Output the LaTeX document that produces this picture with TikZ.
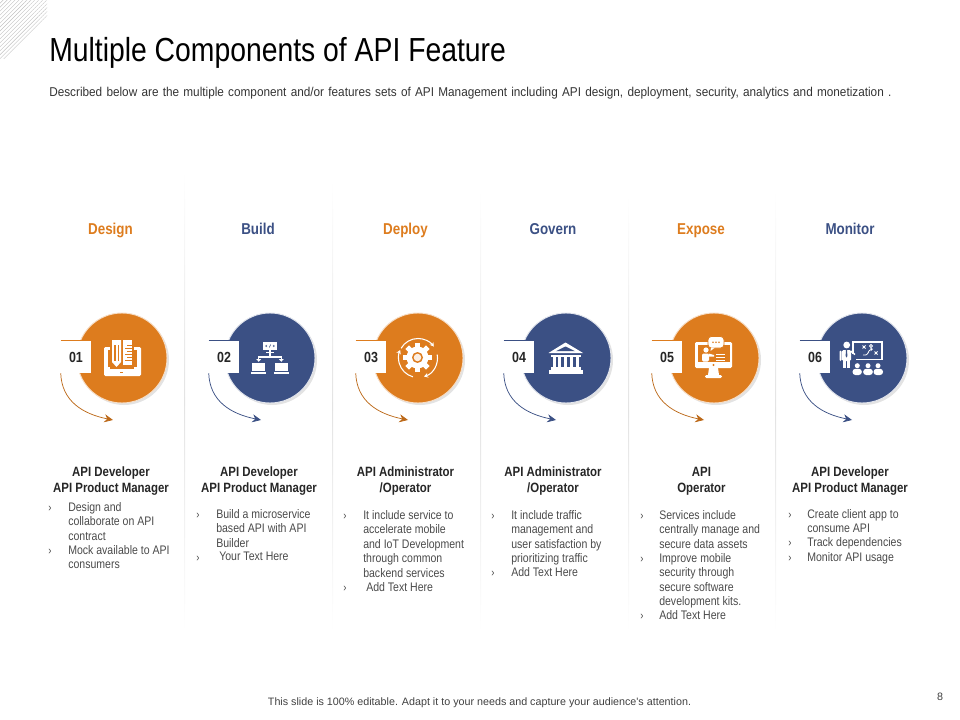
\documentclass[tikz,border=0pt]{standalone}
\usepackage{fontspec}
\setmainfont{Liberation Sans}[FakeStretch=0.85]
\newfontfamily\subfont{Liberation Sans}[FakeStretch=0.92,WordSpace=1.3]
\newfontfamily\footfont{Liberation Sans}
\usetikzlibrary{arrows.meta,patterns.meta,shadows}
\definecolor{brandO}{HTML}{DD7C1E}
\definecolor{brandB}{HTML}{3B5084}
\definecolor{bodyGray}{HTML}{4A4A4A}
\tikzset{
  head_t/.style = {inner sep=0pt, anchor=base, font=\bfseries\fontsize{11.8}{13}\selectfont},
  head_o/.style = {head_t, brandO},
  head_b/.style = {head_t, brandB},
  role/.style = {align=center, inner sep=0pt, text=black!85,
    font=\bfseries\fontsize{10.1}{12}\selectfont},
  item/.style = {align=left, inner sep=0pt, anchor=north west, text=bodyGray,
    font=\fontsize{9.3}{10.85}\selectfont},
  chev/.style = {inner sep=0pt, text=bodyGray, font=\fontsize{8.5}{10}\selectfont},
  circ_t/.style = {circle, minimum size=67.5pt, inner sep=0pt,
    drop shadow={shadow xshift=1.5pt, shadow yshift=-1.5pt, opacity=.22}},
  circ_o/.style = {circ_t, fill=brandO, draw=brandO!25, line width=.7pt},
  circ_b/.style = {circ_t, fill=brandB, draw=brandB!15, line width=.7pt},
  tag/.style = {fill=white, minimum width=22.5pt, minimum height=24pt, inner sep=0pt,
    text=black!85, font=\bfseries\fontsize{11}{12}\selectfont},
  conn_o/.style = {->, brandO!85!black, line width=.55pt},
  conn_b/.style = {->, brandB, line width=.55pt},
  line_o/.style = {brandO, line width=.5pt},% top edge of a number tag
  line_b/.style = {brandB, line width=.5pt},
  sep/.style = {top color=white, bottom color=white, middle color=black!11},
  ic_design/.pic = {
    \fill[white, rounded corners=1pt] (-18,-11) rectangle (19,18);
    \fill[brandO] (-14,-8) rectangle (15,9);
    \fill[brandO] (-12,-11) rectangle (12,11);
    \fill[white] (-10,-18) -- (-1,-18) -- (-1,4) -- (-5.5,9) -- (-10,4) -- cycle;
    \fill[brandO] (-8,-13) -- (-6.5,-13) -- (-6.5,3) -- (-8,3) -- cycle;
    \fill[brandO] (-4.5,-13) -- (-3,-13) -- (-3,3) -- (-4.5,3) -- cycle;
    \fill[white] (0.5,-18) rectangle (10,7);
    \fill[brandO] (5,-13) rectangle (10,-12);
    \fill[brandO] (3,-10) rectangle (10,-9);
    \fill[brandO] (5,-7) rectangle (10,-6);
    \fill[brandO] (3,-4) rectangle (10,-3);
    \fill[brandO] (5,-1) rectangle (10,0);
    \fill[brandO] (3,2) rectangle (10,3);
    \fill[brandO] (-2,13.5) rectangle (1,14.5);
  },
  ic_net/.pic = {
    \fill[white] (-7,-16) rectangle (7,-8);
    \draw[brandB, line width=.4pt] (-3,-13) -- (-4.5,-12) -- (-3,-11) (3,-13) -- (4.5,-12) -- (3,-11) (.7,-13.5) -- (-.7,-10.5);
    \fill[white] (-1,-8) rectangle (1,-1);
    \fill[white] (-4,-6.5) rectangle (4,-5);
    \fill[white] (-12,-1.7) rectangle (12,-.3);
    \fill[white] (-12,-1) rectangle (-10.6,1);
    \fill[white] (10.6,-1) rectangle (12,1);
    \fill[white] (-13.8,1) -- (-8.8,1) -- (-11.3,3.8) -- cycle;
    \fill[white] (8.8,1) -- (13.8,1) -- (11.3,3.8) -- cycle;
    \fill[white] (-18,5) rectangle (-5,13);
    \fill[white] (-19,14) rectangle (-4,16);
    \fill[white] (5,5) rectangle (18,13);
    \fill[white] (4,14) rectangle (19,16);
  },
  ic_gear/.pic = {
    \fill[white] (-.5,-.5) circle (11);
    \fill[white, rotate around={0:(-.5,-.5)}] (-3,-15) rectangle (2,14);
    \fill[white, rotate around={45:(-.5,-.5)}] (-3,-15) rectangle (2,14);
    \fill[white, rotate around={90:(-.5,-.5)}] (-3,-15) rectangle (2,14);
    \fill[white, rotate around={135:(-.5,-.5)}] (-3,-15) rectangle (2,14);
    \fill[brandO] (-.5,-.5) circle (5.5);
    \fill[white!88!brandO] (-.5,-.5) circle (3.8);
    \draw[white, line width=.8pt, -{Stealth[length=3pt,width=3.5pt]}] (-150:19.5) arc (-150:-36:19.5);
    \draw[white, line width=.8pt, -{Stealth[length=3pt,width=3.5pt]}] (-10:19.5) arc (-10:72:19.5);
    \draw[white, line width=.8pt, -{Stealth[length=3pt,width=3.5pt]}] (105:19.5) arc (105:204:19.5);
  },
  ic_bank/.pic = {
    \fill[white] (-.5,-15.5) -- (17,-5) -- (-17.5,-5) -- cycle;
    \fill[brandB] (-.5,-11.5) -- (9,-6.8) -- (-10,-6.8) -- cycle;
    \fill[white] (-15,-3.5) rectangle (14.5,-1);
    \fill[white] (-13.5,-1) rectangle (-10.5,9);
    \fill[white] (-8,-1) rectangle (-5,9);
    \fill[white] (-2,-1) rectangle (1,9);
    \fill[white] (4,-1) rectangle (7,9);
    \fill[white] (10,-1) rectangle (13,9);
    \fill[white] (-15,9) rectangle (14.5,11.5);
    \fill[white] (-17.5,11.5) rectangle (17,15.5);
  },
  ic_screen/.pic = {
    \fill[white, rounded corners=1pt] (-19,-16) rectangle (18,10);
    \fill[brandO] (-16.5,-13) rectangle (15.5,3.5);
    \fill[brandO] (-.5,7) circle (1.2);
    \fill[white] (-5,10) -- (4,10) -- (5,17) -- (-6,17) -- cycle;
    \fill[white, rounded corners=1pt] (-9,17) rectangle (8,20);
    \fill[white, draw=brandO, line width=.6pt, rounded corners=2.5pt] (-6,-21.5) rectangle (10,-10);
    \fill[white] (-3,-10.5) -- (1,-10.5) -- (-3.5,-7) -- cycle;
    \fill[brandO] (-1,-15.7) circle (.9);
    \fill[brandO] (2,-15.7) circle (.9);
    \fill[brandO] (5,-15.7) circle (.9);
    \fill[white] (-8,-8) circle (2.6);
    \fill[white, rounded corners=1pt] (-12,-4.5) rectangle (-5,3.5);
    \fill[white] (-5.5,-4.5) -- (0,-3) -- (0,-1.5) -- (-5.5,-1.5) -- cycle;
    \fill[white] (2,-4.4) rectangle (11,-3);
    \fill[white] (2,-1.4) rectangle (11,0);
    \fill[white] (2,2) rectangle (11,3.4);
  },
  ic_teach/.pic = {
    \fill[white] (-15.3,-13) circle (3.4);
    \fill[white, rounded corners=1pt] (-20,-8) rectangle (-11,3);
    \fill[white] (-19,3) rectangle (-15.8,10);
    \fill[white] (-15,3) rectangle (-11.8,10);
    \fill[white, rounded corners=.8pt] (-22.5,-7.5) rectangle (-20.5,3);
    \fill[brandB] (-16,-8) -- (-15,-8) -- (-14.6,-2) -- (-15.5,-.5) -- (-16.4,-2) -- cycle;
    \draw[white, line width=1.1pt] (-11.5,-7) -- (-7,-3.5);
    \draw[white, line width=.9pt] (-9,-4) -- (-9,-16) -- (20,-16) -- (20,1.5) -- (-6,1.5);
    \draw[white, line width=.6pt] (0.5,-12.5) -- (3.5,-9.5) (3.5,-12.5) -- (.5,-9.5);
    \draw[white, line width=.6pt] (12.5,-6.5) -- (15.5,-3.5) (15.5,-6.5) -- (12.5,-3.5);
    \draw[white, line width=.6pt] (9,-12) circle (1.5);
    \draw[white, line width=.6pt, -{Stealth[length=2pt,width=2.5pt]}] (1,-3) .. controls (8,-2) and (5,-8) .. (11,-9);
    \fill[white] (-4.7,7.7) circle (2.5);
    \fill[white] (6,7.7) circle (2.5);
    \fill[white] (16,7.7) circle (2.5);
    \fill[white, rounded corners=2.2pt] (-9.5,10.8) -- (-.2,10.8) -- (-.2,17) -- (-9.5,17) -- cycle;
    \fill[white, rounded corners=2.2pt] (1.2,10.8) -- (10.8,10.8) -- (10.8,17) -- (1.2,17) -- cycle;
    \fill[white, rounded corners=2.2pt] (11.6,10.8) -- (21,10.8) -- (21,17) -- (11.6,17) -- cycle;
  }
}
\begin{document}
\begin{tikzpicture}[x=0.75pt,y=-0.75pt,>={Stealth[length=6.5pt,width=6pt]}]
\useasboundingbox (0,0) rectangle (960,720);

% corner hatch
\fill[pattern={Lines[angle=45,distance=2.1pt,line width=.3pt]}, pattern color=black!24] (0,0) -- (47,0) -- (47,18) -- (6,59) -- (0,59) -- cycle;

\node[anchor=west, inner sep=0pt, font=\fontsize{25}{28}\selectfont] (title) at (49,52.5) {Multiple Components of API Feature};
\node[anchor=west, inner sep=0pt, text=black!80, font=\subfont\fontsize{9.6}{11}\selectfont] (subtitle) at (49,93.5)
  {Described below are the multiple component and/or features sets of API Management including API design, deployment, security, analytics and monetization .};

% column rules
\shade[sep] (184,170) rectangle (185.2,632);
\shade[sep] (332,180) rectangle (333.2,632);
\shade[sep] (480,190) rectangle (481.2,632);
\shade[sep] (628,195) rectangle (629.2,632);
\shade[sep] (775,190) rectangle (776.2,632);

\node[head_o] (head1) at (110.5,234.5) {Design};
\node[head_b] (head2) at (258,234.5) {Build};
\node[head_o] (head3) at (405.5,234.5) {Deploy};
\node[head_b] (head4) at (553,234.5) {Govern};
\node[head_o] (head5) at (701,234.5) {Expose};
\node[head_b] (head6) at (850,234.5) {Monitor};

\node[circ_o] (circ1) at (122,358) {};
\node[circ_b] (circ2) at (270,358) {};
\node[circ_o] (circ3) at (418,358) {};
\node[circ_b] (circ4) at (566,358) {};
\node[circ_o] (circ5) at (714,358) {};
\node[circ_b] (circ6) at (862,358) {};

\pic at (circ1) {ic_design};
\pic at (circ2) {ic_net};
\pic at (circ3) {ic_gear};
\pic at (circ4) {ic_bank};
\pic at (circ5) {ic_screen};
\pic at (circ6) {ic_teach};

\node[tag] (tag1) at (76,357) {01};
\node[tag] (tag2) at (224,357) {02};
\node[tag] (tag3) at (371,357) {03};
\node[tag] (tag4) at (519,357) {04};
\node[tag] (tag5) at (667,357) {05};
\node[tag] (tag6) at (815,357) {06};

\draw[line_o] (tag1.north west) -- (tag1.north east);
\draw[line_b] (tag2.north west) -- (tag2.north east);
\draw[line_o] (tag3.north west) -- (tag3.north east);
\draw[line_b] (tag4.north west) -- (tag4.north east);
\draw[line_o] (tag5.north west) -- (tag5.north east);
\draw[line_b] (tag6.north west) -- (tag6.north east);

\coordinate (tip1) at (113,420);
\coordinate (tip2) at (261,420);
\coordinate (tip3) at (408,420);
\coordinate (tip4) at (556,420);
\coordinate (tip5) at (704,420);
\coordinate (tip6) at (852,420);

\draw[conn_o] (tag1.south west) .. controls +(1,28) and +(-30,-6) .. (tip1);
\draw[conn_b] (tag2.south west) .. controls +(1,28) and +(-30,-6) .. (tip2);
\draw[conn_o] (tag3.south west) .. controls +(1,28) and +(-30,-6) .. (tip3);
\draw[conn_b] (tag4.south west) .. controls +(1,28) and +(-30,-6) .. (tip4);
\draw[conn_o] (tag5.south west) .. controls +(1,28) and +(-30,-6) .. (tip5);
\draw[conn_b] (tag6.south west) .. controls +(1,28) and +(-30,-6) .. (tip6);

\node[role] (role1) at (111,481.5) {API Developer\\API Product Manager};
\node[role] (role2) at (259,481.5) {API Developer\\API Product Manager};
\node[role] (role3) at (405.5,481.5) {API Administrator\\/Operator};
\node[role] (role4) at (553,481.5) {API Administrator\\/Operator};
\node[role] (role5) at (701.5,481.5) {API\\Operator};
\node[role] (role6) at (850,481.5) {API Developer\\API Product Manager};

% column 1
\node[chev] (ch1a) at (50,509) {›};
\node[item] (it1a) at (68,502) {Design and\\collaborate on API\\contract};
\node[chev] (ch1b) at (50,552) {›};
\node[item] (it1b) at (68,545) {Mock available to API\\consumers};

% column 2
\node[chev] (ch2a) at (198,516) {›};
\node[item] (it2a) at (216,509) {Build a microservice\\based API with API\\Builder};
\node[chev] (ch2b) at (198,559) {›};
\node[item] (it2b) at (219,552) {Your Text Here};

% column 3
\node[chev] (ch3a) at (345,517) {›};
\node[item] (it3a) at (363,510) {It include service to\\accelerate mobile\\and IoT Development\\through common\\backend services};
\node[chev] (ch3b) at (345,589) {›};
\node[item] (it3b) at (366,582) {Add Text Here};

% column 4
\node[chev] (ch4a) at (493,517) {›};
\node[item] (it4a) at (511,510) {It include traffic\\management and\\user satisfaction by\\prioritizing traffic};
\node[chev] (ch4b) at (493,574) {›};
\node[item] (it4b) at (511,567) {Add Text Here};

% column 5
\node[chev] (ch5a) at (642,517) {›};
\node[item] (it5a) at (659,510) {Services include\\centrally manage and\\secure data assets};
\node[chev] (ch5b) at (642,560) {›};
\node[item] (it5b) at (659,553) {Improve mobile\\security through\\secure software\\development kits.};
\node[chev] (ch5c) at (642,617) {›};
\node[item] (it5c) at (659,610) {Add Text Here};

% column 6
\node[chev] (ch6a) at (790,516) {›};
\node[item] (it6a) at (807,509) {Create client app to\\consume API};
\node[chev] (ch6b) at (790,544) {›};
\node[item] (it6b) at (807,537) {Track dependencies};
\node[chev] (ch6c) at (790,559) {›};
\node[item] (it6c) at (807,552) {Monitor API usage};

\node[inner sep=0pt, text=black!75, font=\footfont\fontsize{8.05}{10}\selectfont] (foot) at (479.5,702.5)
  {This slide is 100\% editable. Adapt it to your needs and capture your audience's attention.};
\node[inner sep=0pt, text=black!75, font=\footfont\fontsize{8.05}{10}\selectfont] (pageno) at (940,697) {8};
\end{tikzpicture}
\end{document}
